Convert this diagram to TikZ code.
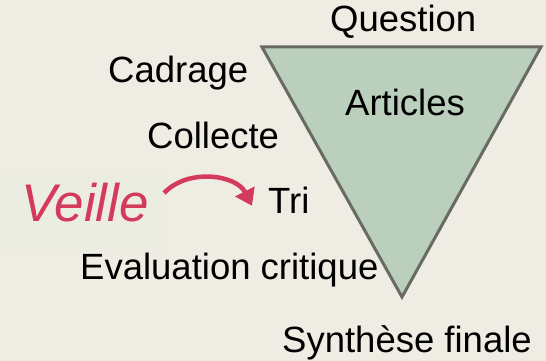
\documentclass[tikz,border=0pt]{standalone}
\usepackage{fontspec}
\setmainfont{Liberation Sans}
\usetikzlibrary{arrows.meta}

\definecolor{paper}{RGB}{239,236,228}
\definecolor{veillebg}{RGB}{236,237,226}
\definecolor{funnelfill}{RGB}{187,207,189}
\definecolor{funnelline}{RGB}{104,106,100}
\definecolor{veillered}{RGB}{212,58,92}

\begin{document}
\begin{tikzpicture}[x = 1pt, y = -1pt]
    \useasboundingbox (0,0) rectangle (546,361);
    \fill[paper] (0,0) rectangle (546,361);
    \fill[veillebg] (0,172) rectangle (164,251);
    % the funnel
    \draw[funnelline, fill = funnelfill, line width = 3pt, line join = miter]
      (262,47) -- (541,47) -- (402,297) -- cycle;
    \begin{scope}[every node/.style={anchor = base west, inner sep = 0pt, font = \fontsize{36.5}{44}\selectfont}]
    \node (question) at (330,32) {Question};
    \node (cadrage) at (108,82) {Cadrage};
    \node (articles) at (345,115) {Articles};
    \node (collecte) at (147,148) {Collecte};
    \node (tri) at (268,213) {Tri};
    \node (evaluation) at (80,279) {Evaluation critique};
    \node (synthese) at (282,352) {Synthèse finale};
    \end{scope}
    \node[anchor = base west, inner sep = 0pt, text = veillered,
      font = \fontsize{53}{64}\selectfont\itshape] (veille) at (21,221) {Veille};
    \draw[veillered, line width = 4.5pt, -{Triangle[length = 16pt, width = 21pt]}]
      ([shift={(15,-9)}]veille.east) to[bend left = 55] ([shift={(-16,6)}]tri.west);
  \end{tikzpicture}
\end{document}
